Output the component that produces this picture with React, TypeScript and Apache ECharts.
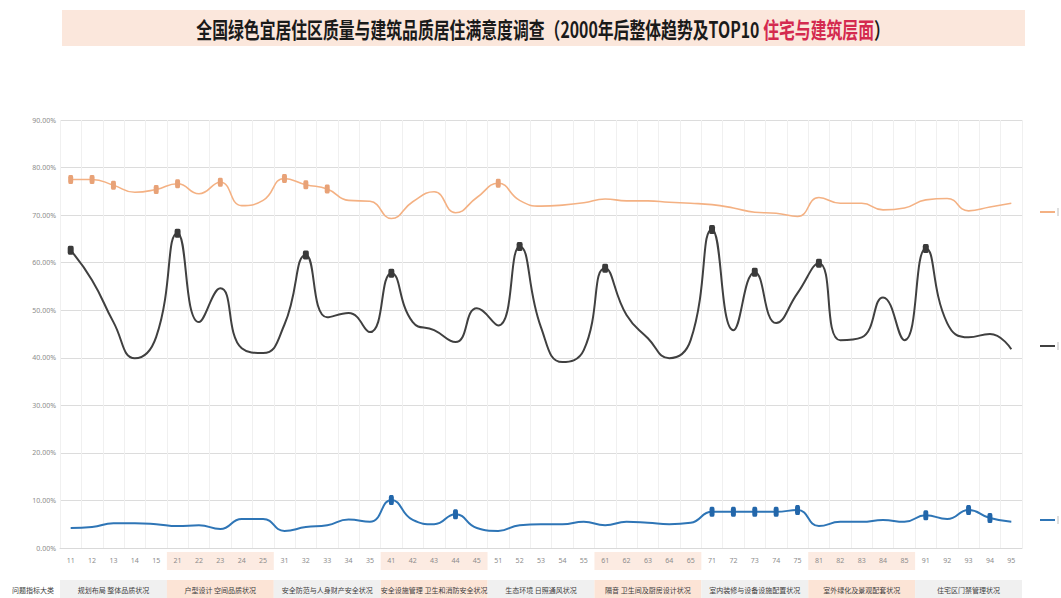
import React, { useEffect, useRef } from "react";
import * as echarts from "echarts";

const categories = [
  "11", "12", "13", "14", "15",
  "21", "22", "23", "24", "25",
  "31", "32", "33", "34", "35",
  "41", "42", "43", "44", "45",
  "51", "52", "53", "54", "55",
  "61", "62", "63", "64", "65",
  "71", "72", "73", "74", "75",
  "81", "82", "83", "84", "85",
  "91", "92", "93", "94", "95",
];

const rowHeader = "问题指标大类";
const groupNames = [
  "规划布局 整体品质状况",
  "户型设计 空间品质状况",
  "安全防范与人身财产安全状况",
  "安全设施管理 卫生和消防安全状况",
  "生态环境 日照通风状况",
  "隔音 卫生间及厨房设计状况",
  "室内装修与设备设施配置状况",
  "室外绿化及景观配套状况",
  "住宅区门禁管理状况",
];

const seriesNames = ["满意", "一般", "不满意"];

const satisfied = [
  77.5, 77.5, 76.3, 74.8, 75.4,
  76.6, 74.5, 76.9, 72.0, 73.1,
  77.7, 76.4, 75.5, 73.1, 72.9,
  69.3, 72.8, 74.9, 70.5, 73.7,
  76.7, 73.1, 71.9, 72.1, 72.6,
  73.4, 73.0, 73.0, 72.7, 72.5,
  72.2, 71.5, 70.6, 70.4, 69.7,
  73.7, 72.5, 72.5, 71.1, 71.5,
  73.2, 73.5, 70.9, 71.7, 72.5,
];

const neutral = [
  62.6, 56.3, 47.5, 39.9, 44.4,
  66.2, 47.5, 54.6, 42.0, 41.0,
  47.0, 61.6, 48.5, 49.4, 45.4,
  57.8, 47.5, 45.8, 43.3, 50.4,
  46.8, 63.4, 46.4, 39.1, 41.6,
  58.8, 49.0, 44.1, 39.9, 43.7,
  67.0, 45.8, 58.0, 47.3, 53.6,
  59.9, 43.7, 44.3, 52.7, 43.7,
  63.0, 47.3, 44.3, 45.0, 41.8,
];

const dissatisfied = [
  4.2, 4.4, 5.2, 5.2, 5.0,
  4.6, 4.8, 4.0, 6.1, 6.1,
  3.6, 4.4, 4.8, 6.0, 5.5,
  10.1, 5.9, 5.0, 7.1, 4.2,
  3.6, 4.8, 5.0, 5.0, 5.5,
  4.8, 5.5, 5.3, 5.0, 5.3,
  7.6, 7.6, 7.6, 7.6, 8.0,
  4.6, 5.5, 5.5, 5.9, 5.5,
  6.9, 6.1, 8.0, 6.3, 5.5,
];

const satisfiedTop10 = ["11", "12", "13", "15", "21", "23", "31", "32", "33", "51"];
const neutralTop10 = ["11", "21", "32", "41", "52", "61", "71", "73", "81", "91"];
const dissatisfiedTop10 = ["41", "44", "71", "72", "73", "74", "75", "91", "93", "94"];

const titleMain = "全国绿色宜居住区质量与建筑品质居住满意度调查（2000年后整体趋势及TOP10 ";
const titleRed = "住宅与建筑层面";
const titleEnd = "）";

const colors = ["#f4b183", "#404040", "#2e75b6"];

export default function App() {
  const ref = useRef<HTMLDivElement>(null);

  useEffect(() => {
    const chart = echarts.init(ref.current as HTMLDivElement, null, { renderer: "svg" });

    const mk = (vals: number[], marks: string[], size: number[]) =>
      vals.map((v, i) =>
        marks.includes(categories[i])
          ? { value: v, symbol: "roundRect", symbolSize: size }
          : { value: v, symbol: "none" }
      );

    chart.setOption({
      animation: false,
      backgroundColor: "#ffffff",
      grid: { left: 60, right: 39, top: 120, bottom: 50, containLabel: false },
      xAxis: {
        type: "category",
        data: categories,
        boundaryGap: true,
        axisLine: { show: true, lineStyle: { color: "#d9d9d9", width: 1 } },
        axisTick: { show: false },
        axisLabel: { interval: 0, fontSize: 7, color: "#8c8c8c", margin: 9, fontFamily: "Noto Sans" },
        splitLine: { show: true, interval: 0, lineStyle: { color: "#f0f0f0", width: 1 } },
      },
      yAxis: {
        type: "value",
        min: 0,
        max: 90,
        interval: 10,
        axisLine: { show: false },
        axisTick: { show: false },
        axisLabel: {
          fontSize: 7,
          color: "#8c8c8c",
          margin: 4,
          fontFamily: "Noto Sans",
          formatter: (v: number) => v.toFixed(2) + "%",
        },
        splitLine: { show: true, lineStyle: { color: "#dcdcdc", width: 1 } },
      },
      series: [
        {
          name: seriesNames[0],
          type: "line",
          smooth: 0.5,
          data: mk(satisfied, satisfiedTop10, [5, 9]),
          lineStyle: { color: colors[0], width: 1.6 },
          itemStyle: { color: "#e8a277" },
          z: 3,
        },
        {
          name: seriesNames[1],
          type: "line",
          smooth: 0.5,
          data: mk(neutral, neutralTop10, [6, 9]),
          lineStyle: { color: colors[1], width: 2 },
          itemStyle: { color: "#3a3a3a" },
          z: 3,
        },
        {
          name: seriesNames[2],
          type: "line",
          smooth: 0.5,
          data: mk(dissatisfied, dissatisfiedTop10, [5, 10]),
          lineStyle: { color: colors[2], width: 2 },
          itemStyle: { color: "#2266aa" },
          z: 3,
        },
      ],
    });

    const centers = categories.map(
      (c) => chart.convertToPixel({ xAxisIndex: 0 }, c) as unknown as number
    );
    const bw = centers[1] - centers[0];
    const axisY = chart.convertToPixel({ yAxisIndex: 0 }, 0) as unknown as number;

    const graphics: any[] = [];
    // title band
    graphics.push({
      type: "rect",
      shape: { x: 62, y: 10, width: 963, height: 36 },
      style: { fill: "#fbe7dc" },
      z: -10,
    });
    graphics.push({
      type: "text",
      x: 543,
      y: 29,
      scaleX: 0.72,
      z: 10,
      style: {
        text: "{a|" + titleMain + "}{b|" + titleRed + "}{a|" + titleEnd + "}",
        align: "center",
        verticalAlign: "middle",
        rich: {
          a: { fontSize: 22, fontWeight: "bold", fill: "#1a1a1a", fontFamily: "Noto Sans CJK SC" },
          b: { fontSize: 22, fontWeight: "bold", fill: "#d42a4f", fontFamily: "Noto Sans CJK SC" },
        },
      },
    });

    // group bands
    for (let g = 0; g < groupNames.length; g++) {
      const left = centers[g * 5] - bw / 2;
      const right = centers[g * 5 + 4] + bw / 2;
      const even = g % 2 === 1;
      if (even) {
        graphics.push({
          type: "rect",
          shape: { x: left, y: axisY + 4, width: right - left, height: 18 },
          style: { fill: "#fcebe2" },
          z: -10,
        });
      }
      graphics.push({
        type: "rect",
        shape: { x: left, y: axisY + 32, width: right - left, height: 20 },
        style: { fill: even ? "#fce4d6" : "#f0f0f0" },
        z: -10,
      });
      graphics.push({
        type: "text",
        x: (left + right) / 2,
        y: axisY + 42,
        z: 10,
        style: {
          text: groupNames[g],
          fontSize: 7,
          fill: "#404040",
          align: "center",
          verticalAlign: "middle",
          fontFamily: "Noto Sans CJK SC",
        },
      });
    }
    graphics.push({
      type: "text",
      x: 33,
      y: axisY + 42,
      z: 10,
      style: {
        text: rowHeader,
        fontSize: 7,
        fill: "#404040",
        align: "center",
        verticalAlign: "middle",
        fontFamily: "Noto Sans CJK SC",
      },
    });

    // right-side legend keys
    const legendY = [212, 346, 520];
    legendY.forEach((ly, i) => {
      graphics.push({
        type: "line",
        shape: { x1: 1040, y1: ly, x2: 1055, y2: ly },
        style: { stroke: colors[i], lineWidth: 2 },
        z: 10,
      });
      graphics.push({
        type: "line",
        shape: { x1: 1058, y1: ly - 4, x2: 1058, y2: ly + 4 },
        style: { stroke: "#bfbfbf", lineWidth: 1 },
        z: 10,
      });
    });

    chart.setOption({ graphic: graphics });

    return () => chart.dispose();
  }, []);

  return (
    <div
      ref={ref}
      style={{ position: "fixed", left: 0, top: 0, width: 1061, height: 598, background: "#ffffff" }}
    />
  );
}
